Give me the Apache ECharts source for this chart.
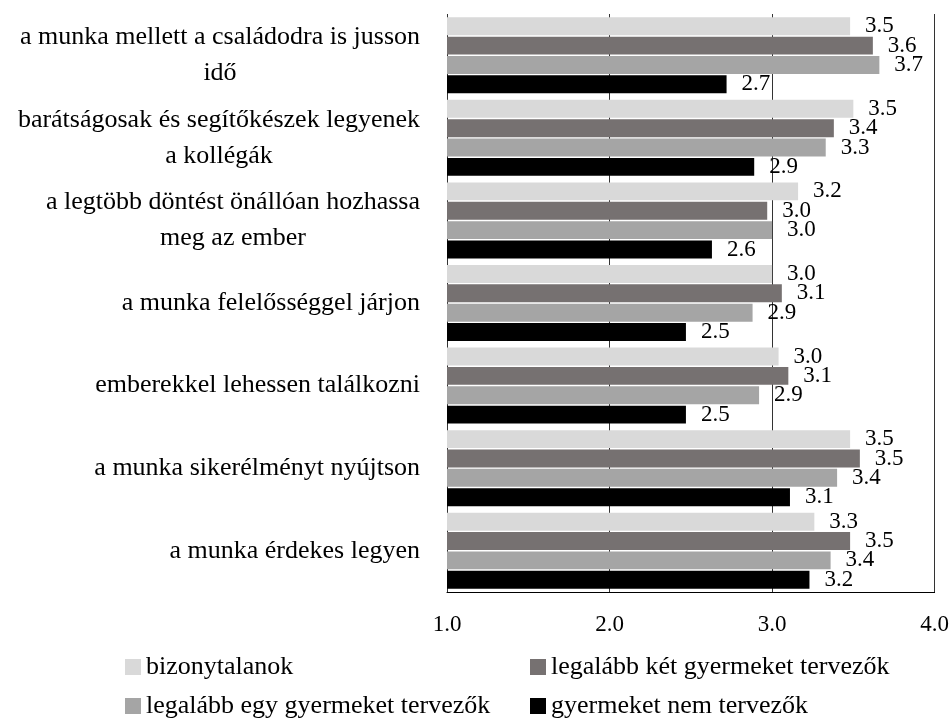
<!DOCTYPE html>
<html>
<head>
<meta charset="utf-8">
<script src="https://cdn.jsdelivr.net/npm/echarts@6/dist/echarts.min.js"></script>
<style>html,body{margin:0;padding:0;background:#fff;}#c{width:952px;height:719px;}</style>
</head>
<body>
<div id="c"></div>
<script>
const categories = [
  'a munka mellett a családodra is jusson\nidő',
  'barátságosak és segítőkészek legyenek\na kollégák',
  'a legtöbb döntést önállóan hozhassa\nmeg az ember',
  'a munka felelősséggel járjon',
  'emberekkel lehessen találkozni',
  'a munka sikerélményt nyújtson',
  'a munka érdekes legyen'
];
const seriesNames = [
  'bizonytalanok',
  'legalább két gyermeket tervezők',
  'legalább egy gyermeket tervezők',
  'gyermeket nem tervezők'
];
const bizonytalanok = [3.48, 3.50, 3.16, 3.00, 3.04, 3.48, 3.26];
const legalabbKet   = [3.62, 3.38, 2.97, 3.06, 3.10, 3.54, 3.48];
const legalabbEgy   = [3.66, 3.33, 3.00, 2.88, 2.92, 3.40, 3.36];
const nemTervezok   = [2.72, 2.89, 2.63, 2.47, 2.47, 3.11, 3.23];
const xTicks = [1, 2, 3, 4];

const FONT = '"Liberation Serif", "DejaVu Serif", serif';
const colors = ['#d9d9d9', '#767171', '#a5a5a5', '#000000'];
const values = [bizonytalanok, legalabbKet, legalabbEgy, nemTervezok];

const chart = echarts.init(document.getElementById('c'), null, {renderer: 'canvas'});
const series = values.map((vals, i) => ({
  name: seriesNames[i],
  type: 'bar',
  data: vals,
  itemStyle: {color: colors[i]},
  barGap: '8%',
  barCategoryGap: '8%',
  label: {
    show: true,
    position: 'right',
    distance: 15,
    color: '#000',
    fontFamily: FONT,
    fontSize: 23,
    formatter: p => p.value.toFixed(1)
  },
  emphasis: {disabled: true}
}));

const legendCommon = {
  orient: 'vertical',
  icon: 'rect', itemWidth: 16, itemHeight: 16, itemGap: 13, itemTextGap: 6,
  padding: 0, height: 100,
  textStyle: {fontFamily: FONT, fontSize: 26, color: '#000'},
  selectedMode: false
};

chart.setOption({
  animation: false,
  backgroundColor: '#fff',
  grid: {left: 447, right: 16, top: 14, bottom: 127, containLabel: false},
  xAxis: {
    type: 'value',
    min: xTicks[0],
    max: xTicks[xTicks.length - 1],
    interval: 1,
    axisLine: {show: true, lineStyle: {color: '#000', width: 1}},
    axisTick: {show: false},
    axisLabel: {
      margin: 21,
      color: '#000',
      fontFamily: FONT,
      fontSize: 23,
      formatter: v => v.toFixed(1)
    },
    splitLine: {show: true, showMinLine: true, showMaxLine: true, lineStyle: {color: '#333', width: 1}}
  },
  yAxis: {
    type: 'category',
    inverse: true,
    data: categories,
    axisLine: {show: false},
    axisTick: {show: false},
    axisLabel: {
      margin: 27,
      color: '#000',
      fontFamily: FONT,
      fontSize: 26,
      lineHeight: 36,
      formatter: v => v.split('\n').map(l => '{c|' + l + '}').join('\n'),
      rich: {c: {align: 'center', fontFamily: FONT, fontSize: 26, lineHeight: 36, color: '#000'}}
    }
  },
  legend: [
    Object.assign({left: 125, top: 654, data: [seriesNames[0], seriesNames[2]]}, legendCommon),
    Object.assign({left: 530, top: 654, data: [seriesNames[1], seriesNames[3]]}, legendCommon)
  ],
  series: series
});
</script>
</body>
</html>
